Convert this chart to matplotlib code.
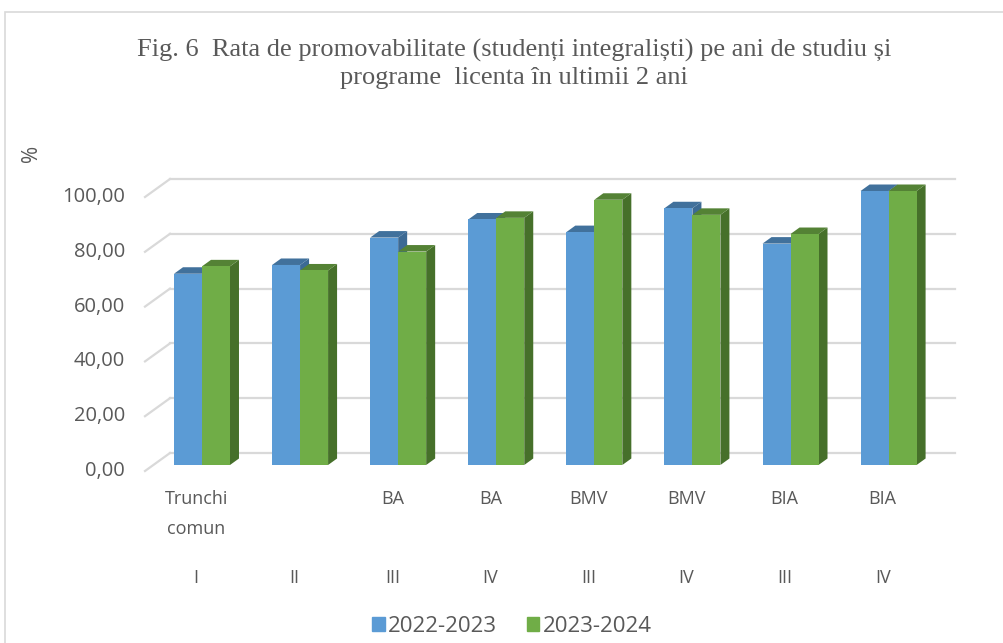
import matplotlib.pyplot as plt
import matplotlib.patches as mpatches
from matplotlib.patches import Polygon, Rectangle
import matplotlib.transforms as mtransforms
import numpy as np

# data
programs = ["Trunchi\ncomun", "", "BA", "BA", "BMV", "BMV", "BIA", "BIA"]
years = ["I", "II", "III", "IV", "III", "IV", "III", "IV"]
series_names = ["2022-2023", "2023-2024"]
vals_2022 = [69.8, 73.0, 83.0, 89.6, 85.0, 93.7, 80.8, 100.0]
vals_2023 = [72.5, 71.0, 77.9, 90.2, 96.8, 91.3, 84.3, 100.0]
yticks = [0, 20, 40, 60, 80, 100]

front_cols = ["#5B9BD5", "#70AD47"]
top_cols = ["#41719C", "#548235"]
side_cols = ["#3C6A94", "#46702A"]
grid_col = "#D9D9D9"
txt_col = "#595959"

fig = plt.figure(figsize=(10.04, 6.43), dpi=100)
# outer chart border
fig.patches.append(Rectangle((5 / 1004, -0.01), 1.02, 1 - 12 / 643 + 0.01,
                             transform=fig.transFigure, fill=False,
                             edgecolor="#D9D9D9", lw=1.2))

# axes: pixel 145..955 in x, value 0 at y=465 px, 100 at y=191 px
ax = fig.add_axes([145 / 1004, (643 - 465) / 643, 810 / 1004, 274 / 643])
x_left, x_right = -0.581, 7.677
ax.set_xlim(x_left, x_right)
ax.set_ylim(0, 100)
ax.axis("off")

px_x = 98.1          # pixels per category
px_y = 2.74          # pixels per value unit
back_dy = 12 / px_y  # back wall is shifted up
front_dy = -6 / px_y # front floor edge shifted down
back_x0 = x_left + 25 / px_x

# back wall gridlines + floor/side diagonals
for v in yticks:
    ax.plot([back_x0, x_right], [v + back_dy, v + back_dy], color=grid_col,
            lw=1.6, clip_on=False, zorder=1)
    ax.plot([x_left, back_x0], [v + front_dy, v + back_dy], color=grid_col,
            lw=1.6, clip_on=False, zorder=1)
    ax.text(-20 / 810, v + front_dy, f"{v:.2f}".replace(".", ","),
            transform=mtransforms.blended_transform_factory(ax.transAxes, ax.transData),
            ha="right", va="center", fontsize=14.5, color=txt_col,
            family="Open Sans")

# 3D-looking bars
w = 28 / px_x
ddx = 9 / px_x
ddy = 6.5 / px_y
x = np.arange(len(years))
for k, vals in enumerate([vals_2022, vals_2023]):
    for i, v in enumerate(vals):
        x0 = x[i] - w + k * w
        x1 = x0 + w
        side = Polygon([(x1, 0), (x1 + ddx, ddy), (x1 + ddx, v + ddy), (x1, v)],
                       closed=True, facecolor=side_cols[k], edgecolor="none",
                       zorder=3 + 2 * k, clip_on=False)
        top = Polygon([(x0, v), (x1, v), (x1 + ddx, v + ddy), (x0 + ddx, v + ddy)],
                      closed=True, facecolor=top_cols[k], edgecolor="none",
                      zorder=3 + 2 * k, clip_on=False)
        ax.add_patch(side)
        ax.add_patch(top)
    ax.bar(x - w + k * w, vals, width=w, align="edge", color=front_cols[k],
           zorder=4 + 2 * k, clip_on=False)

# category labels (two rows)
lab_tr = mtransforms.blended_transform_factory(ax.transData, ax.transAxes)
for i in range(len(years)):
    ax.text(x[i] - 0.06, -0.09, programs[i], transform=lab_tr,
            ha="center", va="top", fontsize=13, color=txt_col,
            family="Open Sans", linespacing=1.85)
    ax.text(x[i] - 0.06, -0.378, years[i], transform=lab_tr,
            ha="center", va="top", fontsize=13, color=txt_col,
            family="Open Sans")

fig.text(32 / 1004, 1 - 153 / 643, "%", rotation=90, ha="center", va="center",
         fontsize=15, color=txt_col, family="Open Sans")

fig.text(514 / 1004, 1 - 64 / 643,
         "Fig. 6  Rata de promovabilitate (studenți integraliști) pe ani de studiu și\nprograme  licenta în ultimii 2 ani",
         ha="center", va="center", fontsize=19, color=txt_col,
         family="Liberation Serif", linespacing=1.28)

handles = [mpatches.Patch(color=c) for c in front_cols]
fig.legend(handles, series_names, loc="center", bbox_to_anchor=(512 / 1004, 1 - 626 / 643),
           ncol=2, frameon=False, handlelength=0.55, handleheight=0.6,
           handletextpad=0.15, columnspacing=1.35,
           prop={"family": "Open Sans", "size": 16}, labelcolor=txt_col)

fig.savefig("out.png", dpi=100)
